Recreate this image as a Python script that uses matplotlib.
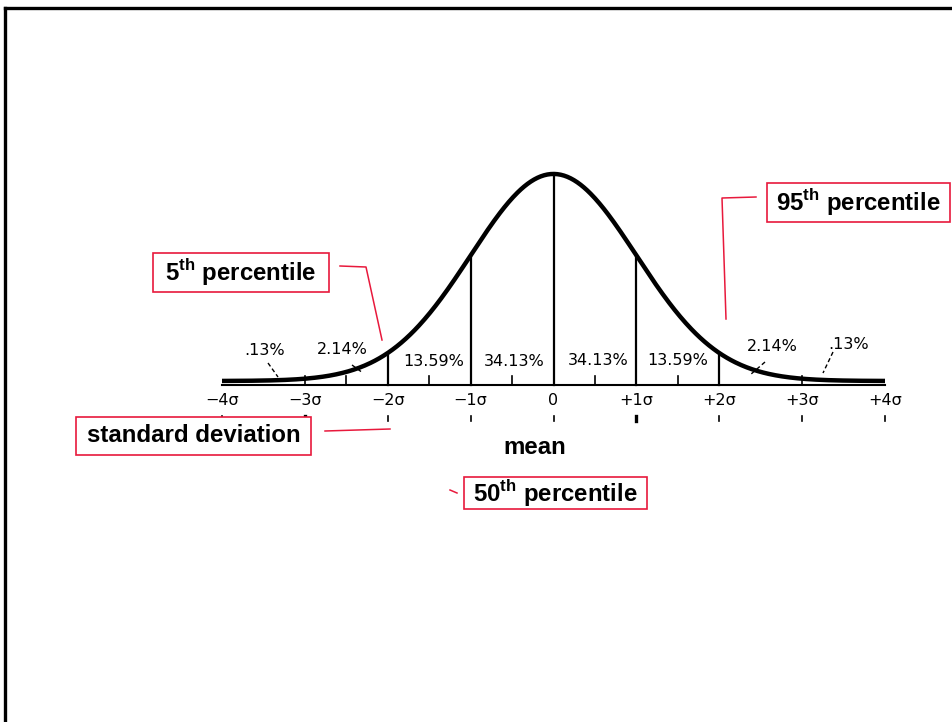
import numpy as np
import matplotlib
matplotlib.use('Agg')
import matplotlib.pyplot as plt
from matplotlib.patches import Rectangle
from matplotlib.lines import Line2D

plt.rcParams['mathtext.fontset'] = 'custom'
plt.rcParams['mathtext.rm'] = 'Liberation Sans:bold'
plt.rcParams['mathtext.bf'] = 'Liberation Sans:bold'

# --- data ---
sigma = [-4, -3, -2, -1, 0, 1, 2, 3, 4]
sigma_labels = ['−4σ', '−3σ', '−2σ', '−1σ', '0', '+1σ', '+2σ', '+3σ', '+4σ']
band_edges = [-2, -1, 0, 1, 2]
minor_ticks = [-3, -2.5, -1.5, -0.5, 0.5, 1.5, 3]
pct_labels = ['.13%', '2.14%', '13.59%', '34.13%', '34.13%', '13.59%', '2.14%', '.13%']
callouts = ['5$^{\\mathbf{th}}$ percentile', 'standard deviation',
            '50$^{\\mathbf{th}}$ percentile', '95$^{\\mathbf{th}}$ percentile']

# layout (in sigma / density units)
pct_x = [-3.49, -2.55, -1.45, -0.48, 0.54, 1.50, 2.64, 3.56]
pct_y = [0.058, 0.060, 0.037, 0.037, 0.040, 0.040, 0.067, 0.071]

W, H = 952, 722
RED = '#e8193c'


def px(x, y):
    # pixel position -> figure fraction
    return x / W, 1 - y / H


fig = plt.figure(figsize=(W / 100, H / 100), dpi=100)
# axes placed so that -4..4 sigma sits where the scanned curve is
ax = fig.add_axes([222 / W, (H - 381) / H, 663 / W, 0.4 * 519 / H])
ax.set_xlim(-4, 4)
ax.set_ylim(0, 0.4)
ax.axis('off')

x = np.linspace(-4, 4, 600)
pdf = np.exp(-x ** 2 / 2) / np.sqrt(2 * np.pi)
ax.plot(x, pdf, color='black', lw=3.2, clip_on=False, solid_capstyle='butt')

base = -0.0077
ax.plot([-4, 4], [base, base], color='black', lw=1.5, clip_on=False)
for e in band_edges:
    top = np.exp(-e ** 2 / 2) / np.sqrt(2 * np.pi)
    ax.plot([e, e], [base, top], color='black', lw=1.6, clip_on=False)
for t in minor_ticks:
    ax.plot([t, t], [base, base + 0.017], color='black', lw=1.2, clip_on=False)

for s, lab in zip(sigma, sigma_labels):
    ax.text(s, -0.037, lab, ha='center', va='center', fontsize=11.5,
            family='DejaVu Sans')
    w = 2.4 if s in (-3, 1) else 1.2
    ax.plot([s, s], [-0.068, -0.078], color='black', lw=w, clip_on=False)

for lx, ly, lab in zip(pct_x, pct_y, pct_labels):
    ax.text(lx, ly, lab, ha='center', va='center', fontsize=11.5,
            family='DejaVu Sans')

# little pointers from the outer labels to the tails
for (x0, y0), (x1, y1) in [((268, 363), (278, 377)), ((352, 365), (363, 373)),
                           ((765, 362), (750, 375)), ((833, 352), (823, 373))]:
    a, b = px(x0, y0)
    c, d = px(x1, y1)
    fig.add_artist(Line2D([a, c], [b, d], color='black', lw=1.0,
                          linestyle=(0, (3, 2))))

# slide frame
fig.add_artist(Line2D([5 / W, 1], [1 - 8 / H, 1 - 8 / H], color='black', lw=2.4))
fig.add_artist(Line2D([5 / W, 5 / W], [1 - 8 / H, 0], color='black', lw=2.4))

# red callout boxes
boxes = [(153, 253, 329, 292), (76, 417, 311, 455), (464, 477, 647, 509), (767, 183, 950, 222)]
for (x0, y0, x1, y1), lab in zip(boxes, callouts):
    a, b = px(x0, y1)
    fig.add_artist(Rectangle((a, b), (x1 - x0) / W, (y1 - y0) / H, transform=fig.transFigure,
                             facecolor='white', edgecolor=RED, lw=1.2))
    cx, cy = px((x0 + x1) / 2, (y0 + y1) / 2)
    fig.text(cx, cy, lab, ha='center', va='center', fontsize=17.3,
             fontweight='bold', family='Liberation Sans')

fig.text(*px(535, 448), 'mean', ha='center', va='center', fontsize=17.3,
         fontweight='bold', family='Liberation Sans')

# red leader lines
leaders = [[(340, 266), (366, 267), (382, 340)],
           [(325, 431), (390, 429)],
           [(450, 490), (457, 493)],
           [(756, 197), (722, 198), (726, 319)]]
for pts in leaders:
    xs = [p[0] / W for p in pts]
    ys = [1 - p[1] / H for p in pts]
    fig.add_artist(Line2D(xs, ys, color=RED, lw=1.1))

fig.savefig('out.png', dpi=100, facecolor='white')
